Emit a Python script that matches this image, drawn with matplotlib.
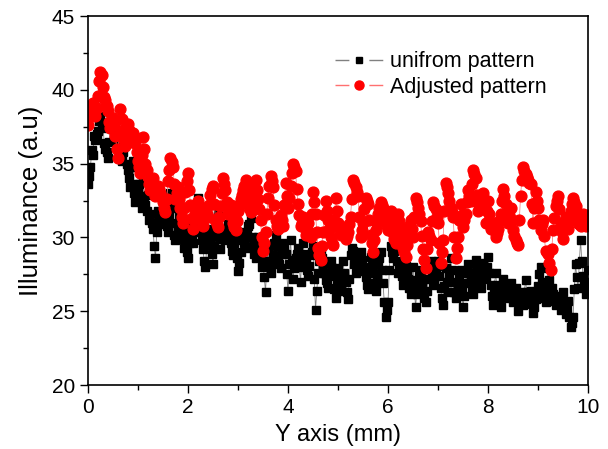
import matplotlib.pyplot as plt
from matplotlib.ticker import MultipleLocator
from matplotlib.lines import Line2D
from matplotlib.legend_handler import HandlerTuple
import numpy as np

plt.rcParams['font.family'] = ['Liberation Sans', 'DejaVu Sans']
plt.rcParams['lines.scale_dashes'] = False

# x positions (mm)
y_axis_mm = np.linspace(0, 10, 401)

# unifrom pattern
uniform_vals = [
    33.6, 34.2, 34.8, 35.9, 35.6, 36.9, 36.6, 37.0, 37.2, 37.9, 38.2, 37.4, 37.6, 36.4, 36.0, 35.8, 35.4, 36.5, 37.4, 38.0,
    37.8, 37.3, 36.8, 36.2, 37.2, 36.0, 36.4, 35.2, 35.8, 36.9, 36.6, 35.0, 34.6, 34.0, 33.4, 34.8, 35.2, 33.0, 32.4, 33.6,
    33.2, 33.6, 32.6, 32.0, 33.8, 32.8, 32.2, 31.8, 32.9, 31.2, 31.6, 31.0, 30.6, 29.4, 28.6, 30.4, 31.8, 31.4, 30.9, 31.6,
    32.4, 31.8, 31.2, 30.8, 30.4, 31.5, 33.0, 32.0, 31.0, 30.2, 29.8, 30.2, 30.6, 31.6, 31.2, 30.5, 29.9, 29.3, 30.2, 29.0,
    28.6, 29.6, 30.8, 30.0, 29.6, 30.6, 31.2, 32.2, 32.7, 31.5, 30.4, 29.8, 29.2, 28.4, 28.0, 29.5, 30.6, 30.1, 29.8, 28.9,
    28.2, 29.4, 30.4, 31.0, 31.6, 30.0, 29.2, 29.9, 30.5, 30.2, 29.8, 30.4, 30.9, 30.0, 29.6, 29.1, 28.8, 29.6, 30.2, 28.6,
    27.7, 28.3, 29.0, 29.8, 30.4, 29.6, 29.3, 30.2, 30.8, 30.9, 31.3, 30.0, 29.4, 28.9, 28.6, 29.5, 30.0, 29.6, 29.1, 28.0,
    28.4, 27.3, 26.3, 28.1, 29.3, 28.4, 27.6, 28.2, 28.8, 29.6, 30.2, 29.4, 28.7, 28.2, 27.9, 28.9, 29.6, 29.2, 28.9, 27.5,
    26.4, 28.2, 29.8, 28.5, 27.2, 27.9, 28.6, 28.9, 29.3, 28.0, 27.0, 28.4, 29.6, 28.9, 28.3, 27.8, 27.4, 28.1, 28.8, 29.0,
    29.4, 27.2, 25.1, 26.4, 27.6, 28.4, 29.0, 28.6, 28.2, 27.6, 27.1, 26.9, 26.6, 27.5, 28.4, 27.9, 27.4, 26.5, 25.9, 26.8,
    27.9, 27.0, 26.4, 27.5, 28.4, 27.6, 27.0, 26.3, 25.8, 27.2, 28.8, 29.3, 29.1, 28.2, 27.6, 28.0, 28.4, 28.7, 29.0, 28.5,
    28.0, 27.7, 27.3, 26.8, 26.5, 27.6, 28.7, 28.1, 27.6, 26.9, 26.4, 27.3, 28.2, 28.6, 29.0, 27.8, 26.9, 25.6, 24.6, 25.1,
    25.6, 27.8, 29.4, 29.0, 28.6, 29.1, 29.6, 28.4, 27.6, 28.0, 28.3, 27.4, 26.8, 27.5, 28.1, 27.6, 27.2, 26.6, 26.2, 27.1,
    28.0, 26.6, 25.3, 26.2, 26.9, 27.4, 27.8, 27.0, 26.4, 25.9, 25.6, 26.4, 27.2, 27.9, 28.4, 27.4, 26.8, 27.1, 27.5, 28.1,
    28.4, 27.4, 26.6, 25.9, 25.4, 26.7, 27.9, 27.0, 26.3, 27.5, 28.6, 27.8, 27.0, 26.3, 25.9, 26.3, 26.8, 27.4, 27.8, 26.4,
    25.3, 26.0, 26.9, 27.6, 28.2, 27.6, 27.1, 26.6, 26.2, 27.4, 28.5, 28.0, 27.7, 27.1, 26.6, 27.5, 28.3, 27.8, 27.2, 28.0,
    28.7, 27.6, 26.8, 26.0, 25.4, 26.6, 27.6, 26.8, 26.1, 25.7, 25.3, 26.4, 27.2, 26.8, 26.4, 26.1, 25.9, 26.5, 26.9, 26.1,
    25.6, 26.2, 26.6, 25.7, 25.0, 25.6, 26.2, 25.8, 25.4, 26.3, 27.1, 26.3, 25.7, 26.0, 26.4, 25.5, 24.9, 25.3, 25.8, 26.3,
    26.7, 27.5, 28.0, 27.0, 26.3, 25.9, 25.6, 26.8, 27.9, 27.1, 26.4, 26.6, 26.2, 25.7, 25.4, 25.6, 26.0, 25.5, 25.1, 25.7,
    26.3, 25.4, 24.8, 25.2, 25.7, 24.6, 23.9, 24.2, 24.6, 26.5, 28.2, 27.3, 26.6, 28.3, 29.8, 28.4, 27.4, 26.8, 26.2, 27.0,
    27.8,
]

# Adjusted pattern
adjusted_vals = [
    37.6, 38.2, 38.6, 38.9, 39.1, 38.5, 38.2, 38.8, 39.6, 40.6, 41.2, 41.0, 40.2, 39.5, 39.3, 38.9, 38.6, 37.8, 37.4, 37.9,
    38.1, 37.6, 36.9, 36.0, 35.4, 37.0, 38.7, 38.0, 37.3, 36.6, 36.2, 36.9, 37.7, 37.3, 36.9, 36.5, 37.1, 36.8, 36.4, 35.8,
    35.2, 34.8, 34.4, 35.6, 36.8, 36.0, 35.0, 34.6, 34.1, 33.6, 33.2, 33.7, 34.0, 33.4, 32.8, 33.1, 33.5, 33.3, 33.0, 32.7,
    32.4, 32.0, 31.7, 32.6, 33.8, 34.6, 35.4, 35.1, 34.8, 33.6, 32.6, 33.0, 33.4, 32.6, 32.0, 31.4, 31.0, 32.0, 33.1, 33.8,
    34.4, 33.2, 32.2, 31.3, 30.6, 31.2, 31.8, 32.2, 32.5, 31.8, 31.2, 30.9, 30.8, 31.4, 32.0, 31.6, 31.4, 32.2, 32.9, 33.3,
    33.5, 32.3, 31.2, 30.9, 30.7, 31.4, 32.1, 33.0, 34.0, 33.6, 33.2, 32.4, 31.6, 31.9, 32.2, 31.5, 31.0, 30.7, 30.5, 31.1,
    31.8, 32.2, 32.6, 32.9, 33.2, 33.5, 33.9, 33.2, 32.5, 32.0, 31.7, 32.2, 32.8, 33.4, 33.9, 33.2, 32.6, 31.9, 31.2, 30.0,
    29.1, 29.6, 30.4, 31.6, 32.7, 33.5, 34.2, 33.8, 33.4, 32.2, 31.2, 30.8, 30.6, 31.0, 31.5, 31.2, 30.8, 32.2, 33.7, 32.8,
    32.0, 32.7, 33.5, 34.4, 35.0, 34.8, 34.5, 33.3, 32.3, 31.5, 30.8, 31.0, 31.4, 30.7, 30.2, 30.5, 31.0, 30.4, 30.0, 31.6,
    33.1, 32.4, 31.6, 30.4, 29.3, 28.8, 28.5, 29.4, 30.4, 31.5, 32.5, 31.8, 31.2, 30.6, 30.0, 29.6, 29.5, 31.2, 32.7, 31.8,
    31.0, 30.6, 30.2, 30.3, 30.6, 30.2, 29.9, 30.1, 30.4, 30.9, 31.4, 32.6, 33.9, 33.7, 33.4, 33.1, 32.8, 31.4, 30.0, 30.5,
    31.0, 31.9, 32.7, 32.5, 32.3, 31.2, 30.2, 29.6, 29.0, 29.8, 30.5, 31.0, 31.6, 32.0, 32.4, 32.2, 32.0, 31.5, 31.1, 30.8,
    30.5, 31.2, 31.8, 31.0, 30.3, 29.9, 29.6, 30.6, 31.6, 31.1, 30.6, 30.0, 29.3, 29.0, 28.7, 29.5, 30.4, 30.8, 31.2, 30.6,
    30.0, 31.4, 32.7, 32.4, 32.0, 31.6, 31.1, 30.1, 29.2, 28.5, 27.9, 29.2, 30.4, 30.1, 29.8, 31.1, 32.4, 32.1, 31.9, 31.4,
    31.0, 29.6, 28.3, 29.0, 29.8, 31.8, 33.7, 33.4, 33.0, 32.5, 32.0, 31.7, 31.4, 30.0, 28.6, 29.3, 30.0, 31.2, 32.3, 31.5,
    30.7, 31.2, 31.6, 32.4, 33.2, 32.8, 32.5, 33.6, 34.6, 34.3, 34.0, 32.9, 31.8, 32.2, 32.6, 32.8, 33.0, 32.0, 31.0, 31.8,
    32.5, 31.6, 30.6, 30.8, 31.0, 30.5, 30.0, 30.3, 30.6, 31.1, 31.6, 32.5, 33.3, 32.8, 32.3, 31.6, 31.0, 31.5, 32.0, 31.2,
    30.5, 30.1, 29.8, 29.6, 29.5, 31.2, 32.8, 33.9, 34.8, 34.5, 34.3, 34.1, 33.9, 33.7, 33.6, 32.3, 31.0, 32.0, 33.1, 32.5,
    32.0, 31.2, 30.5, 30.9, 31.2, 30.1, 29.1, 29.0, 28.9, 28.3, 27.8, 29.2, 30.5, 31.3, 32.1, 32.5, 32.8, 31.9, 31.0, 30.4,
    29.9, 30.7, 31.4, 31.0, 30.6, 31.2, 31.8, 32.3, 32.7, 32.4, 32.1, 31.5, 31.0, 30.9, 30.8, 31.2, 31.6, 31.2, 30.8, 31.2,
    31.5,
]

fig = plt.figure(figsize=(6.08, 4.49), dpi=100)
ax = fig.add_axes([0.1447, 0.1425, 0.8225, 0.8215])

ax.plot(y_axis_mm, uniform_vals, color='#808080', linewidth=0.6,
        marker='s', markersize=5.8, markerfacecolor='black',
        markeredgecolor='black')
ax.plot(y_axis_mm, adjusted_vals, color='#ff8080', linewidth=0.6,
        marker='o', markersize=7.8, markerfacecolor='#ff0000',
        markeredgecolor='#ff0000')

ax.set_xlim(0, 10)
ax.set_ylim(20, 45)
ax.xaxis.set_major_locator(MultipleLocator(2))
ax.xaxis.set_minor_locator(MultipleLocator(1))
ax.yaxis.set_major_locator(MultipleLocator(5))
ax.yaxis.set_minor_locator(MultipleLocator(2.5))
ax.tick_params(which='major', direction='out', length=6, width=1, labelsize=15)
ax.tick_params(which='minor', direction='out', length=3.5, width=1)
for sp in ax.spines.values():
    sp.set_linewidth(1.2)

ax.set_xlabel('Y axis (mm)', fontsize=17, labelpad=5)
ax.set_ylabel('Illuminance (a.u)', fontsize=18.5, labelpad=6)

# legend: line - marker - line
gap = (10, 14.4)
h1 = (Line2D([], [], color='#808080', linewidth=1.0, dashes=gap),
      Line2D([], [], linestyle='none', marker='s', markersize=5, color='black'))
h2 = (Line2D([], [], color='#ff7070', linewidth=1.0, dashes=gap),
      Line2D([], [], linestyle='none', marker='o', markersize=6.5, color='#ff0000'))
ax.legend([h1, h2], ['unifrom pattern', 'Adjusted pattern'],
          handler_map={tuple: HandlerTuple(ndivide=1, pad=0)},
          loc='upper left', bbox_to_anchor=(0.494, 0.905), borderaxespad=0,
          borderpad=0, frameon=False, fontsize=15.5, handlelength=2.23,
          handletextpad=0.33, labelspacing=0.2)

plt.savefig('out.png', dpi=100)
